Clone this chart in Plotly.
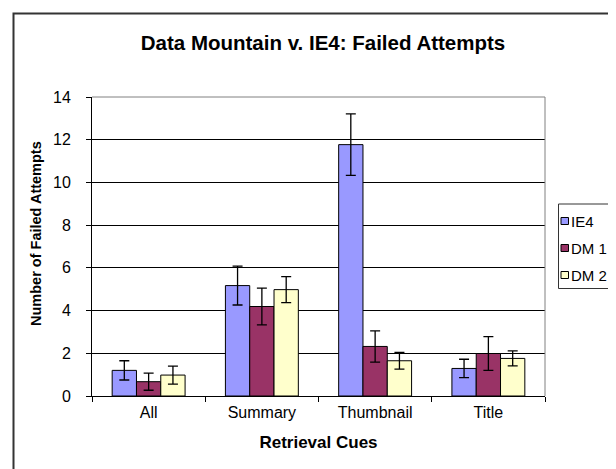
import plotly.graph_objects as go

categories = ["All", "Summary", "Thumbnail", "Title"]
series_names = ["IE4", "DM 1", "DM 2"]
ie4_values = [1.20, 5.17, 11.77, 1.29]
ie4_errors = [0.45, 0.91, 1.44, 0.43]
dm1_values = [0.67, 4.19, 2.32, 1.99]
dm1_errors = [0.40, 0.86, 0.73, 0.79]
dm2_values = [0.98, 4.98, 1.65, 1.76]
dm2_errors = [0.42, 0.61, 0.39, 0.35]
colors = ["#9999FF", "#993366", "#FFFFCC"]
y_ticks = [0, 2, 4, 6, 8, 10, 12, 14]

FONT = "Liberation Sans, Arial, sans-serif"
W, H = 616, 469
L, R, T, B = 84, 537, 89, 388  # plot area pixels

fig = go.Figure()
for name, vals, errs, col in zip(series_names,
                                 [ie4_values, dm1_values, dm2_values],
                                 [ie4_errors, dm1_errors, dm2_errors],
                                 colors):
    fig.add_trace(go.Bar(
        x=categories, y=vals, name=name,
        marker=dict(color=col, line=dict(color="#000000", width=1)),
        error_y=dict(type="data", array=errs, visible=True,
                     color="#000000", thickness=1.3, width=5),
        showlegend=False,
    ))

def px_x(p):
    return (p - L) / (R - L)

def px_y(p):
    return (B - p) / (B - T)

shapes = []
# outer chart frame (left and top visible)
shapes.append(dict(type="rect", xref="paper", yref="paper",
                   x0=px_x(5.5), x1=px_x(700), y0=px_y(5.5), y1=px_y(520),
                   line=dict(color="#333333", width=2), fillcolor="rgba(0,0,0,0)",
                   layer="below"))
# plot area border top/right
shapes.append(dict(type="line", xref="paper", yref="paper", x0=0, x1=1, y0=1, y1=1,
                   line=dict(color="#808080", width=1)))
shapes.append(dict(type="line", xref="paper", yref="paper", x0=1, x1=1, y0=0, y1=1,
                   line=dict(color="#808080", width=1)))
# legend box
shapes.append(dict(type="rect", xref="paper", yref="paper",
                   x0=px_x(550.5), x1=px_x(700), y0=px_y(196), y1=px_y(280.5),
                   line=dict(color="#333333", width=1), fillcolor="white"))

annotations = []
legend_y = [213, 240, 267]
for name, col, yy in zip(series_names, colors, legend_y):
    shapes.append(dict(type="rect", xref="paper", yref="paper",
                       x0=px_x(553), x1=px_x(560.5), y0=px_y(yy - 3.5), y1=px_y(yy + 3.5),
                       line=dict(color="#000000", width=1), fillcolor=col))
    annotations.append(dict(xref="paper", yref="paper", x=px_x(560.5), y=px_y(yy),
                            text=name, showarrow=False, xanchor="left", yanchor="middle",
                            font=dict(family=FONT, size=15, color="#000000")))

# y-axis title placed as annotation for exact position
annotations.append(dict(xref="paper", yref="paper", x=px_x(28), y=px_y(226),
                        text="Number of Failed Attempts", textangle=-90,
                        showarrow=False, xanchor="center", yanchor="middle",
                        font=dict(family=FONT, size=14.5, color="#000000", weight="bold")))

fig.update_layout(
    width=W, height=H,
    margin=dict(l=L, r=W - R, t=T, b=H - B, pad=0),
    paper_bgcolor="white", plot_bgcolor="white",
    barmode="group", bargap=0.356, bargroupgap=0,
    font=dict(family=FONT, color="#000000"),
    title=dict(text="Data Mountain v. IE4: Failed Attempts",
               x=315 / W, xanchor="center", xref="container",
               y=1 - 35 / H, yanchor="middle", yref="container",
               font=dict(family=FONT, size=20.5, color="#000000", weight="bold")),
    xaxis=dict(
        range=[-0.5, 3.5],
        showgrid=False, showline=True, linecolor="#000000", linewidth=1,
        ticks="outside", ticklen=5, tickcolor="#000000", tickson="boundaries",
        tickfont=dict(family=FONT, size=16, color="#000000"),
        ticklabelstandoff=2,
        title=dict(text="Retrieval Cues", standoff=15,
                   font=dict(family=FONT, size=17, color="#000000", weight="bold")),
        zeroline=False,
    ),
    yaxis=dict(
        range=[0, 14], tickvals=y_ticks,
        showgrid=True, gridcolor="#000000", gridwidth=1,
        showline=True, linecolor="#000000", linewidth=1,
        ticks="outside", ticklen=5, tickcolor="#000000",
        tickfont=dict(family=FONT, size=16, color="#000000"),
        ticklabelstandoff=12,
        zeroline=False,
    ),
    shapes=shapes,
    annotations=annotations,
)

fig.write_html("out.html")
